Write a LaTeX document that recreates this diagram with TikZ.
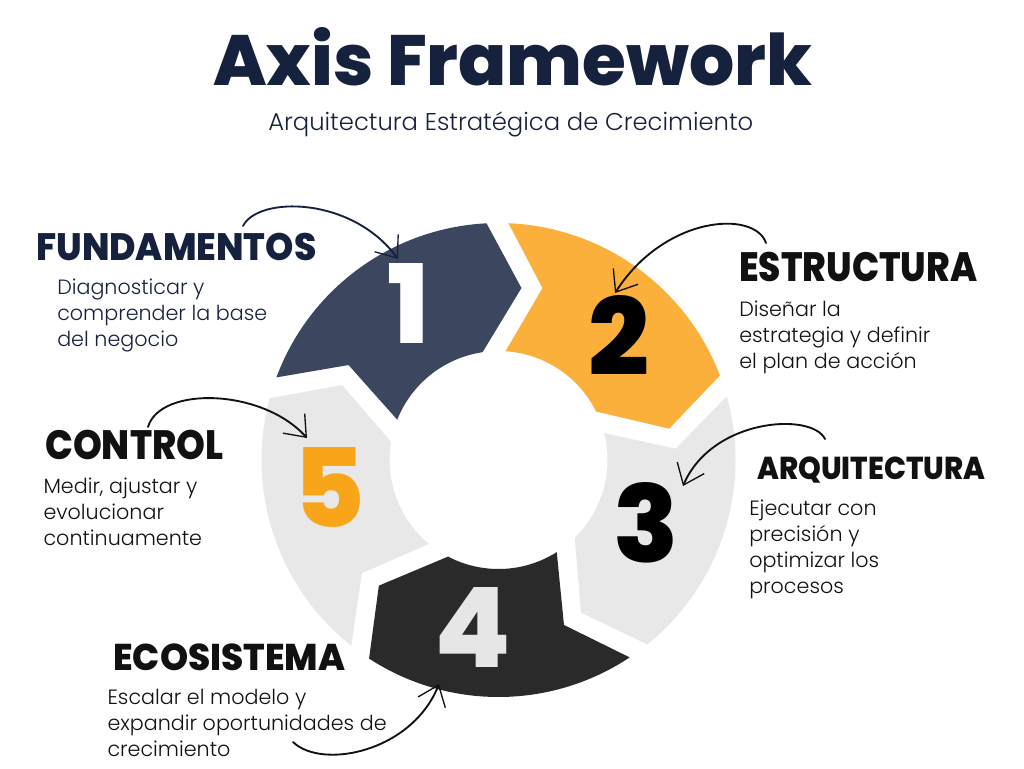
\documentclass[tikz,border=0pt]{standalone}
\usepackage{fontspec}
\setmainfont{Poppins}
\newfontfamily\lightfont{Poppins Light}
\newfontfamily\heavyfont{Poppins ExtraBold}
\usetikzlibrary{arrows.meta}
\definecolor{navy}{HTML}{16223D}
\definecolor{segone}{HTML}{3C465E}
\definecolor{segtwo}{HTML}{FBB03B}
\definecolor{seggray}{HTML}{E8E8E8}
\definecolor{segfour}{HTML}{2A2A2A}
\definecolor{fiveorange}{HTML}{F9A51A}
\definecolor{fourgray}{HTML}{E6E6E6}
\definecolor{inkblack}{HTML}{111111}
\begin{document}
\begin{tikzpicture}[x=0.75pt,y=-0.75pt,
  head/.style={inner sep=0pt, anchor=base west, font=\heavyfont},
  body/.style={inner sep=0pt, anchor=base west, align=left, font=\lightfont\fontsize{15.5pt}{19.5pt}\selectfont},
  digit/.style={inner sep=0pt, font=\heavyfont},
  sketch/.style={line width=1.4pt, line cap=round, -{Straight Barb[length=14pt,width=22pt,line width=1pt]}},
]
\fill[white] (0,0) rectangle (1024,768);
\useasboundingbox (0,0) rectangle (1024,768);

% ring of five chevron segments
\begin{scope}[shift={(498.5,460)}, y=0.75pt]
\foreach \a/\c in {0/segone, -72/segtwo, -144/seggray, -216/segfour, -288/seggray} {
  \fill[\c, rotate=\a] (98.4:109) -- (82.4:173.5) -- (92.9:237)
     arc[start angle=92.9, end angle=159.6, radius=237]
     -- (147.65:177.5) -- (158.3:109)
     arc[start angle=158.3, end angle=98.4, radius=109] -- cycle;
}
\end{scope}

% digits
\node[digit, text=white] (n1) at (408.3,303.3) {\resizebox{!}{60pt}{1}};
\node[digit, text=black] (n2) at (619,335) {\resizebox{!}{60pt}{2}};
\node[digit, text=black] (n3) at (646.3,522.5) {\resizebox{!}{60pt}{3}};
\node[digit, text=fourgray] (n4) at (472.5,627.5) {\resizebox{!}{60pt}{4}};
\node[digit, text=fiveorange] (n5) at (329,487.5) {\resizebox{!}{60pt}{5}};

% title
\node[head, text=navy] (title) at (213,85) {\resizebox{449pt}{43.5pt}{Axis Framework}};
\node[inner sep=0pt, anchor=base west, text=navy, font=\lightfont] (sub) at (268,130) {\resizebox{363.75pt}{!}{Arquitectura Estratégica de Crecimiento}};

% headings
\node[head, text=navy] (h1) at (36,260) {\resizebox{210pt}{20.5pt}{FUNDAMENTOS}};
\node[head, text=inkblack] (h2) at (739,281) {\resizebox{178.5pt}{22pt}{ESTRUCTURA}};
\node[head, text=inkblack] (h3) at (757,479) {\resizebox{171pt}{17pt}{ARQUITECTURA}};
\node[head, text=inkblack] (h4) at (113,670) {\resizebox{174pt}{20pt}{ECOSISTEMA}};
\node[head, text=inkblack] (h5) at (45,459) {\resizebox{133.5pt}{22pt}{CONTROL}};

% descriptions (anchored at the baseline of their last line)
\node[body, text=navy] (d1) at (57,346) {Diagnosticar y\\comprender la base\\del negocio};
\node[body, text=inkblack] (d2) at (739,368) {Diseñar la\\estrategia y definir\\el plan de acción};
\node[body, text=inkblack] (d3) at (749,593.3) {Ejecutar con\\precisión y\\optimizar los\\procesos};
\node[body, text=inkblack] (d4) at (107.3,756.7) {Escalar el modelo y\\expandir oportunidades de\\crecimiento};
\node[body, text=inkblack] (d5) at (43.3,545.7) {Medir, ajustar y\\evolucionar\\continuamente};

% hand-drawn arrows
\coordinate (a1s) at (243,226); \coordinate (a1t) at (398,259);
\coordinate (a2s) at (766,243); \coordinate (a2t) at (615,293);
\coordinate (a3s) at (825,439); \coordinate (a3t) at (683,486);
\coordinate (a4s) at (293,742); \coordinate (a4t) at (439,684);
\coordinate (a5s) at (148,427); \coordinate (a5t) at (307,438);
\draw[sketch, navy] (a1s) .. controls (258,196) and (352,196) .. (a1t);
\draw[sketch, inkblack] (a2s) .. controls (755,210) and (665,215) .. (a2t);
\draw[sketch, inkblack] (a3s) .. controls (812,412) and (712,418) .. (a3t);
\draw[sketch, inkblack] (a4s) .. controls (322,770) and (412,752) .. (a4t);
\draw[sketch, inkblack] (a5s) .. controls (160,386) and (262,388) .. (a5t);
\end{tikzpicture}
\end{document}
